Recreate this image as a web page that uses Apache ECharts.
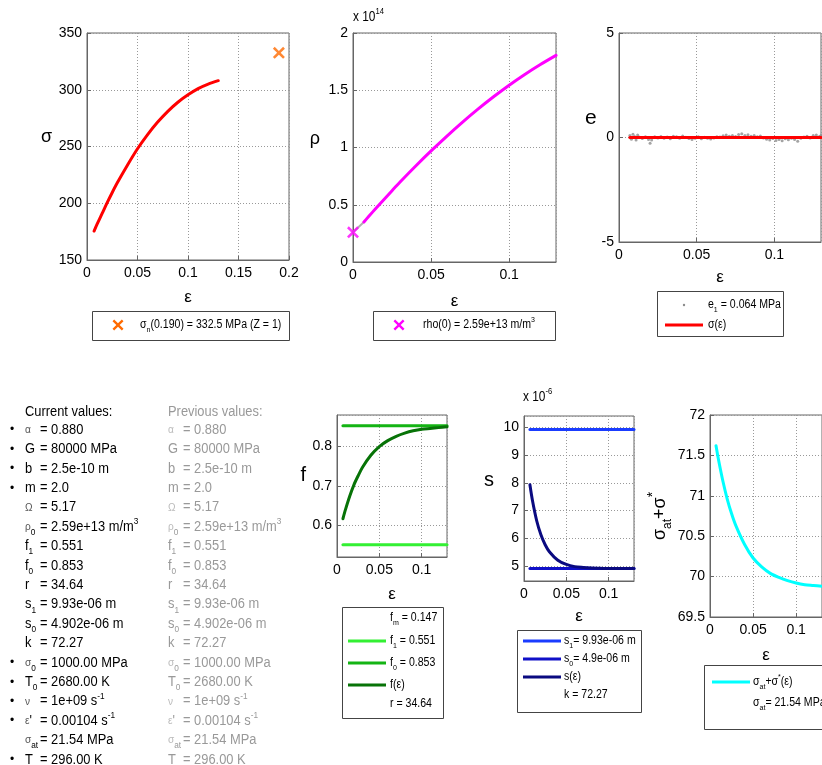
<!DOCTYPE html>
<html>
<head>
<meta charset="utf-8">
<script src="https://cdn.jsdelivr.net/npm/echarts@6/dist/echarts.min.js"></script>
<style>
  html, body { margin: 0; padding: 0; background: #fff; }
  #chart { width: 822px; height: 765px; }
</style>
</head>
<body>
<div id="chart"></div>
<script>
const FONT = '"Liberation Sans", Arial, sans-serif';

// ---- data ----
// strain samples used by the fitted curves
const epsFit = [0.007, 0.01, 0.015, 0.02, 0.025, 0.03, 0.04, 0.05, 0.06, 0.07, 0.08, 0.09, 0.10, 0.11, 0.12, 0.13];
// sigma(eps) in MPa
const stressFit = [175.5, 181.5, 191, 200.5, 209.5, 218, 233.5, 248, 260.5, 271.5, 281, 289, 295.5, 301, 305, 308];
const nominalPoint = [0.19, 332.5];
// rho(eps), units of 1e14 m/m^3
const rhoFit = [0.35, 0.397, 0.474, 0.549, 0.623, 0.696, 0.836, 0.970, 1.098, 1.220, 1.335, 1.443, 1.544, 1.638, 1.725, 1.805];
const rhoStartEps = [0, 0.007];
const rhoStartVals = [0.259, 0.35];
const rho0Point = [0, 0.259];
// residuals e (MPa)
const residEps = [0.007, 0.008, 0.009, 0.010, 0.011, 0.012, 0.013, 0.015, 0.017, 0.019, 0.020, 0.021, 0.023, 0.025,
  0.027, 0.029, 0.031, 0.033, 0.035, 0.037, 0.039, 0.041, 0.043, 0.045, 0.047, 0.049, 0.051, 0.053, 0.055, 0.057,
  0.059, 0.061, 0.063, 0.065, 0.067, 0.069, 0.071, 0.073, 0.075, 0.077, 0.079, 0.081, 0.083, 0.085, 0.087, 0.089,
  0.091, 0.093, 0.095, 0.097, 0.099, 0.101, 0.103, 0.105, 0.107, 0.109, 0.111, 0.113, 0.115, 0.117, 0.119, 0.121,
  0.123, 0.125, 0.127, 0.129, 0.130];
const residVals = [0.10, -0.08, 0.15, 0.05, -0.12, 0.12, 0.02, -0.05, 0.03, -0.10, -0.28, -0.12, 0.04, -0.02,
  0.05, -0.04, 0.02, -0.06, 0.06, 0.03, -0.03, 0.07, 0.01, -0.05, -0.09, -0.04, 0.03, -0.06, 0.01, -0.03,
  -0.07, -0.02, 0.04, 0.02, 0.08, 0.12, 0.06, 0.10, 0.05, 0.14, 0.18, 0.09, 0.13, 0.06, 0.10, 0.03,
  0.07, -0.02, -0.08, -0.12, -0.05, -0.14, -0.09, -0.16, -0.06, -0.11, -0.04, -0.10, -0.18, -0.03, 0.02, 0.06,
  -0.02, 0.09, 0.12, 0.05, 0.10];
// f(eps) and its limits
const fFit = [0.617, 0.640, 0.674, 0.703, 0.726, 0.747, 0.778, 0.800, 0.815, 0.826, 0.834, 0.840, 0.844, 0.846, 0.848, 0.850];
const f1Val = 0.551;
const f0Val = 0.853;
// s(eps), units of 1e-6 m
const sFit = [7.93, 7.36, 6.63, 6.12, 5.76, 5.51, 5.20, 5.05, 4.97, 4.94, 4.92, 4.91, 4.90, 4.90, 4.90, 4.90];
const s1Val = 9.93;
const s0Val = 4.902;
// sigma_at + sigma*(eps), MPa
const sigStarFit = [71.62, 71.44, 71.18, 70.96, 70.78, 70.63, 70.40, 70.23, 70.12, 70.04, 69.99, 69.95, 69.92, 69.90, 69.89, 69.88];

// parameter table
const paramNames = ['α', 'G', 'b', 'm', 'Ω', 'ρ_0', 'f_1', 'f_0', 'r', 's_1', 's_0', 'k', 'σ_0', 'T_0', 'ν', "ε'", 'σ_{at}', 'T'];
const paramValues = ['= 0.880', '= 80000 MPa', '= 2.5e-10 m', '= 2.0', '= 5.17', '= 2.59e+13 m/m^3', '= 0.551', '= 0.853',
  '= 34.64', '= 9.93e-06 m', '= 4.902e-06 m', '= 72.27', '= 1000.00 MPa', '= 2680.00 K', '= 1e+09 s^{-1}',
  '= 0.00104 s^{-1}', '= 21.54 MPa', '= 296.00 K'];
const paramBullet = [1, 1, 1, 1, 0, 0, 0, 0, 0, 0, 0, 0, 1, 1, 1, 1, 0, 1];

// ---- helpers ----
function pairs(xs, ys) {
  return xs.map((x, i) => [x, ys[i]]);
}
function flat(value) {
  return [[epsFit[0], value], [epsFit[epsFit.length - 1], value]];
}
// "_x" / "_{xy}" -> subscript, "^x" / "^{xy}" -> superscript
function tex(str) {
  return str.replace(/_\{([^}]*)\}|_(.)/g, (m, a, b) => '{sub|' + (a || b) + '}')
            .replace(/\^\{([^}]*)\}|\^(.)/g, (m, a, b) => '{sup|' + (a || b) + '}');
}
function richStyles(size, color) {
  const sub = Math.round(size * 0.65);
  return {
    sub: { font: sub + 'px ' + FONT, fill: color, lineHeight: 4, verticalAlign: 'bottom' },
    sup: { font: sub + 'px ' + FONT, fill: color, lineHeight: 4, verticalAlign: 'top' },
    g: { font: Math.round(size * 0.8) + 'px ' + FONT, fill: color === '#000' ? '#555' : '#bbb' }
  };
}
function txt(x, y, str, o) {
  o = o || {};
  const size = o.size || 12;
  const color = o.color || '#000';
  return {
    type: 'text', x: x, y: y, scaleX: o.sx || 0.88, silent: true, z: 10,
    style: {
      text: o.raw ? str : tex(str),
      font: size + 'px ' + FONT,
      fill: color,
      lineHeight: size + 6,   // taller line box pushes sub/superscripts outward
      align: 'left',
      verticalAlign: 'middle',
      rich: richStyles(size, color)
    }
  };
}
function box(x, y, w, h) {
  return { type: 'rect', z: 5, silent: true, shape: { x: x + 0.5, y: y + 0.5, width: w, height: h },
    style: { fill: '#fff', stroke: '#444', lineWidth: 1 } };
}
function seg(x1, x2, y, color) {
  return { type: 'line', z: 10, silent: true, shape: { x1: x1, y1: y, x2: x2, y2: y },
    style: { stroke: color, lineWidth: 3 } };
}
// thick "x" marker outline on a 10x10 box
const XPTS = [[0, 1.5], [1.5, 0], [5, 3.5], [8.5, 0], [10, 1.5], [6.5, 5], [10, 8.5], [8.5, 10], [5, 6.5], [1.5, 10], [0, 8.5], [3.5, 5]];
const XPATH = 'M' + XPTS.map(p => p[0] + ',' + p[1]).join('L') + 'Z';
function cross(cx, cy, size, color) {
  return { type: 'polygon', z: 10, silent: true,
    shape: { points: XPTS.map(p => [cx - size / 2 + p[0] * size / 10, cy - size / 2 + p[1] * size / 10]) },
    style: { fill: color } };
}

// ---- grids and axes ----
const gridBoxes = [
  [87, 33, 202, 227],
  [353, 33, 203, 229],
  [619, 33, 202, 209],
  [337, 415, 110, 142],
  [524, 416, 110, 165],
  [710, 415, 112, 202]
];
const grids = gridBoxes.map(b => ({
  left: b[0], top: b[1], width: b[2], height: b[3],
  show: true, borderColor: '#666', borderWidth: 1, backgroundColor: '#fff',
  containLabel: false, outerBoundsMode: 'none'
}));

const axisCommon = {
  type: 'value',
  nameLocation: 'middle',
  axisLine: { show: true, onZero: false, lineStyle: { color: '#666' } },
  axisTick: { show: true, inside: true, length: 4, lineStyle: { color: '#666' } },
  splitLine: { show: true, lineStyle: { color: '#999', type: [1, 2], width: 1 } }
};
function xAxis(gi, max, gap, showMax) {
  return Object.assign({}, axisCommon, {
    gridIndex: gi, min: 0, max: max, interval: 0.05,
    name: 'ε', nameGap: gap,
    nameTextStyle: { fontFamily: FONT, fontSize: 17, color: '#000' },
    axisLabel: { color: '#000', fontFamily: FONT, fontSize: 14, margin: 6, showMaxLabel: showMax }
  });
}
// "up" lifts the name above the vertical middle of the axis
function yAxis(gi, opts, name, gap, up, nameStyle) {
  return Object.assign({}, axisCommon, {
    gridIndex: gi, name: name, nameGap: gap, nameRotate: 0,
    nameTextStyle: Object.assign({ fontFamily: FONT, fontSize: 18, color: '#000',
      verticalAlign: 'bottom', lineHeight: 2 * up }, nameStyle || {}),
    axisLabel: Object.assign({ color: '#000', fontFamily: FONT, fontSize: 14, margin: 5 },
      opts.hideEnds ? { showMinLabel: false, showMaxLabel: false } : {})
  }, opts.range);
}

const xAxes = [
  xAxis(0, 0.2, 29, true),
  xAxis(1, 0.13, 31, false),
  xAxis(2, 0.13, 27, false),
  xAxis(3, 0.13, 29, false),
  xAxis(4, 0.13, 27, false),
  xAxis(5, 0.13, 30, false)
];
const yAxes = [
  yAxis(0, { range: { min: 150, max: 350, interval: 50 } }, 'σ', 35, 9),
  yAxis(1, { range: { min: 0, max: 2, interval: 0.5 } }, 'ρ', 33, 8),
  yAxis(2, { range: { min: -5, max: 5, interval: 5 } }, 'e', 20, 19, { fontSize: 21 }),
  yAxis(3, { range: { min: 0.52, max: 0.88, splitNumber: 4 }, hideEnds: true }, 'f', 31, 11, { fontSize: 20 }),
  yAxis(4, { range: { min: 4.45, max: 10.42, splitNumber: 6 }, hideEnds: true }, 's', 30, 18, { fontSize: 20 }),
  yAxis(5, { range: { min: 69.5, max: 72, interval: 0.5 } }, 'σ{sub|at}+σ{sup|*}', 44, 0, {
    verticalAlign: 'middle', lineHeight: 28,
    rich: {
      sub: { fontFamily: FONT, fontSize: 12, color: '#000', lineHeight: 4, verticalAlign: 'bottom' },
      sup: { fontFamily: FONT, fontSize: 14, color: '#000', lineHeight: 4, verticalAlign: 'top' }
    }
  })
];
yAxes[5].nameRotate = 90;

// ---- series ----
function line(gi, data, color, width, z) {
  return { type: 'line', xAxisIndex: gi, yAxisIndex: gi, data: data, showSymbol: false, symbol: 'none',
    smooth: 0.3,
    lineStyle: { color: color, width: width || 3, cap: 'round', join: 'round' }, itemStyle: { color: color }, z: z || 2,
    silent: true, emphasis: { disabled: true } };
}
const series = [
  line(0, pairs(epsFit, stressFit), '#ff0000'),
  { type: 'scatter', xAxisIndex: 0, yAxisIndex: 0, data: [nominalPoint], symbol: 'path://' + XPATH, symbolSize: 12,
    itemStyle: { color: '#ff6a00' }, clip: false, silent: true, z: 4 },
  line(1, pairs(rhoStartEps, rhoStartVals), '#b0b0b0', 2),
  line(1, pairs(epsFit, rhoFit), '#ff00ff'),
  { type: 'scatter', xAxisIndex: 1, yAxisIndex: 1, data: [rho0Point], symbol: 'path://' + XPATH, symbolSize: 12,
    itemStyle: { color: '#ff00ff' }, clip: false, silent: true, z: 4 },
  { type: 'scatter', xAxisIndex: 2, yAxisIndex: 2, data: pairs(residEps, residVals), symbolSize: 3,
    itemStyle: { color: '#8c8c8c' }, silent: true, z: 2 },
  line(2, [[epsFit[0], 0], [epsFit[epsFit.length - 1], 0]], '#ff0000', 3, 3),
  line(3, flat(f1Val), '#33f033'),
  line(3, flat(f0Val), '#14b414'),
  line(3, pairs(epsFit, fFit), '#077307', 3, 3),
  line(4, flat(s1Val), '#1a3cff'),
  line(4, flat(s0Val), '#1010c8'),
  line(4, pairs(epsFit, sFit), '#0a0a80', 3, 3),
  line(5, pairs(epsFit, sigStarFit), '#00ffff')
];

// ---- legends and annotations ----
const graphics = [];
// sigma legend
graphics.push(box(92, 311, 197, 29), cross(118, 325, 11, '#ff6a00'),
  txt(140, 325, 'σ_n(0.190) = 332.5 MPa (Z = 1)'));
// rho legend
graphics.push(box(373, 311, 182, 29), cross(399, 325, 11, '#ff00ff'),
  txt(423, 325, 'rho(0) = 2.59e+13 m/m^3'));
// residual legend
graphics.push(box(657, 291, 126, 45),
  { type: 'circle', z: 10, silent: true, shape: { cx: 684, cy: 305, r: 1.2 }, style: { fill: '#8c8c8c' } },
  txt(708, 305, 'e_1 = 0.064 MPa'),
  seg(665, 703, 325, '#ff0000'), txt(708, 325, 'σ(ε)'));
// f legend
graphics.push(box(342, 607, 101, 111),
  txt(390, 618, 'f_m = 0.147'),
  seg(348, 386, 641, '#33f033'), txt(390, 641, 'f_1 = 0.551'),
  seg(348, 386, 663, '#14b414'), txt(390, 663, 'f_0 = 0.853'),
  seg(348, 386, 685, '#077307'), txt(390, 685, 'f(ε)'),
  txt(390, 704, 'r = 34.64'));
// s legend
graphics.push(box(517, 630, 124, 82),
  seg(523, 561, 641, '#1a3cff'), txt(564, 641, 's_1= 9.93e-06 m'),
  seg(523, 561, 659, '#1010c8'), txt(564, 659, 's_0= 4.9e-06 m'),
  seg(523, 561, 677, '#0a0a80'), txt(564, 677, 's(ε)'),
  txt(564, 695, 'k = 72.27'));
// sigma_at legend
graphics.push(box(704, 665, 130, 64),
  seg(712, 750, 682, '#00ffff'), txt(753, 682, 'σ_{at}+σ^*(ε)'),
  txt(753, 703, 'σ_{at}= 21.54 MPa'));
// exponent labels
graphics.push(txt(353, 17, 'x 10^{14}', { size: 14, sx: 0.85 }));
graphics.push(txt(523, 397, 'x 10^{-6}', { size: 14, sx: 0.85 }));

// parameter table
graphics.push(txt(25, 412, 'Current values:', { size: 14, sx: 0.92 }));
graphics.push(txt(168, 412, 'Previous values:', { size: 14, sx: 0.92, color: '#999' }));
paramNames.forEach((name, i) => {
  const y = 430 + i * 19.4;
  let label = tex(name);
  if (/^[α-ωΑ-Ω]/.test(name)) label = '{g|' + name[0] + '}' + label.slice(1);
  if (paramBullet[i]) graphics.push(txt(10, y, '•', { size: 12, sx: 1 }));
  graphics.push(txt(25, y, label, { size: 14, sx: 0.92, raw: true }));
  graphics.push(txt(40, y, paramValues[i], { size: 14, sx: 0.92 }));
  graphics.push(txt(168, y, label, { size: 14, sx: 0.92, raw: true, color: '#999' }));
  graphics.push(txt(183, y, paramValues[i], { size: 14, sx: 0.92, color: '#999' }));
});

const myChart = echarts.init(document.getElementById('chart'), null, { renderer: 'canvas' });
myChart.setOption({
  animation: false,
  backgroundColor: '#fff',
  grid: grids,
  xAxis: xAxes,
  yAxis: yAxes,
  series: series,
  graphic: graphics
});
</script>
</body>
</html>
